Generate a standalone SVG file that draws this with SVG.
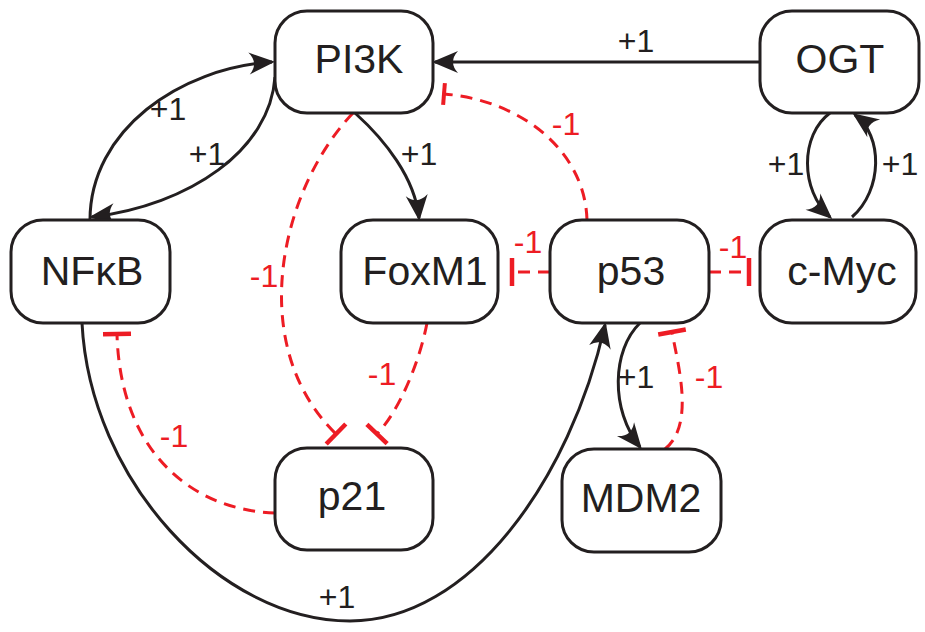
<svg xmlns="http://www.w3.org/2000/svg" width="925" height="632" viewBox="0 0 925 632">
<style>
.box{fill:#fff;stroke:#231f20;stroke-width:3}
.lbl{font-family:"Liberation Sans",Arial,sans-serif;font-size:41px;fill:#231f20;text-anchor:middle}
.pos{fill:none;stroke:#231f20;stroke-width:3}
.neg{fill:none;stroke:#ed1c24;stroke-width:3;stroke-dasharray:12 8}
.tp{font-family:"Liberation Sans",Arial,sans-serif;font-size:32px;fill:#231f20;text-anchor:middle}
.tn{font-family:"Liberation Sans",Arial,sans-serif;font-size:32px;fill:#ed1c24;text-anchor:middle}
</style>
<defs>
<marker id="arr" markerUnits="userSpaceOnUse" viewBox="-2 -14 30 28" markerWidth="30" markerHeight="28" refX="23" refY="0" orient="auto">
<path d="M26,0 L0,-11 Q10,0 0,11 Z" fill="#231f20"/>
</marker>
<marker id="bar" markerUnits="userSpaceOnUse" viewBox="-4 -16 8 32" markerWidth="8" markerHeight="32" refX="0" refY="0" orient="auto">
<path d="M0,-14 L0,14" stroke="#ed1c24" stroke-width="4.5" fill="none"/>
</marker>
<marker id="barS" markerUnits="userSpaceOnUse" viewBox="-4 -14 8 28" markerWidth="8" markerHeight="28" refX="0" refY="0" orient="auto">
<path d="M0,-11 L0,11" stroke="#ed1c24" stroke-width="4" fill="none"/>
</marker>
</defs>
<g id="connectors">
<path class="pos" d="M90,220 C90,130 180,68 272,62" marker-end="url(#arr)"/>
<path class="pos" d="M275,77 C270,150 190,205 92,217" marker-end="url(#arr)"/>
<path class="pos" d="M355,113 C385,140 415,178 419,218" marker-end="url(#arr)"/>
<path class="pos" d="M760,62 L435,62" marker-end="url(#arr)"/>
<path class="pos" d="M830,113 C800,135 800,190 830,217" marker-end="url(#arr)"/>
<path class="pos" d="M852,217 C883,190 883,135 855,115" marker-end="url(#arr)"/>
<path class="pos" d="M82,323 C90,480 220,621 350,621 C470,621 570,480 605,325" marker-end="url(#arr)"/>
<path class="pos" d="M640,323 C612,350 610,410 640,447" marker-end="url(#arr)"/>
<path class="neg" d="M587,220 C585,150 520,100 444,94" marker-end="url(#barS)"/>
<path class="neg" d="M353,113 C280,190 245,345 336,434" marker-end="url(#bar)"/>
<path class="neg" d="M427,323 C420,360 400,410 377,434" marker-end="url(#bar)"/>
<path class="neg" d="M275,513 C190,510 120,450 117,334" marker-end="url(#bar)"/>
<path class="neg" d="M665,449 C695,425 678,365 672,332" marker-end="url(#bar)"/>
<path class="neg" d="M550,272 L512,272" marker-end="url(#bar)"/>
<path class="neg" d="M709,272 L749,272" marker-end="url(#bar)"/>
<text class="tp" x="168" y="120">+1</text>
<text class="tp" x="207" y="165">+1</text>
<text class="tp" x="419" y="165">+1</text>
<text class="tp" x="636" y="52">+1</text>
<text class="tp" x="786" y="175">+1</text>
<text class="tp" x="900" y="175">+1</text>
<text class="tp" x="337" y="608">+1</text>
<text class="tp" x="636" y="388">+1</text>
<text class="tn" x="566" y="135">-1</text>
<text class="tn" x="264" y="287">-1</text>
<text class="tn" x="382" y="385">-1</text>
<text class="tn" x="174" y="447">-1</text>
<text class="tn" x="709" y="388">-1</text>
<text class="tn" x="528" y="253">-1</text>
<text class="tn" x="733" y="258">-1</text>
</g>
<g id="PI3K"><rect class="box" x="275" y="11" width="158" height="102" rx="32"/><text class="lbl" x="359" y="73">PI3K</text></g>
<g id="OGT"><rect class="box" x="760" y="11" width="159" height="102" rx="32"/><text class="lbl" x="840" y="73">OGT</text></g>
<g id="NFkB"><rect class="box" x="11" y="220" width="159" height="103" rx="32"/><text class="lbl" x="92" y="285">NFκB</text></g>
<g id="FoxM1"><rect class="box" x="341" y="220" width="157" height="103" rx="32"/><text class="lbl" x="425" y="285">FoxM1</text></g>
<g id="p53"><rect class="box" x="550" y="220" width="159" height="103" rx="32"/><text class="lbl" x="631" y="285">p53</text></g>
<g id="cMyc"><rect class="box" x="760" y="220" width="156" height="103" rx="32"/><text class="lbl" x="842" y="285">c-Myc</text></g>
<g id="p21"><rect class="box" x="275" y="448" width="158" height="102" rx="32"/><text class="lbl" x="352" y="510">p21</text></g>
<g id="MDM2"><rect class="box" x="562" y="449" width="159" height="103" rx="32"/><text class="lbl" x="641" y="512">MDM2</text></g>
</svg>
